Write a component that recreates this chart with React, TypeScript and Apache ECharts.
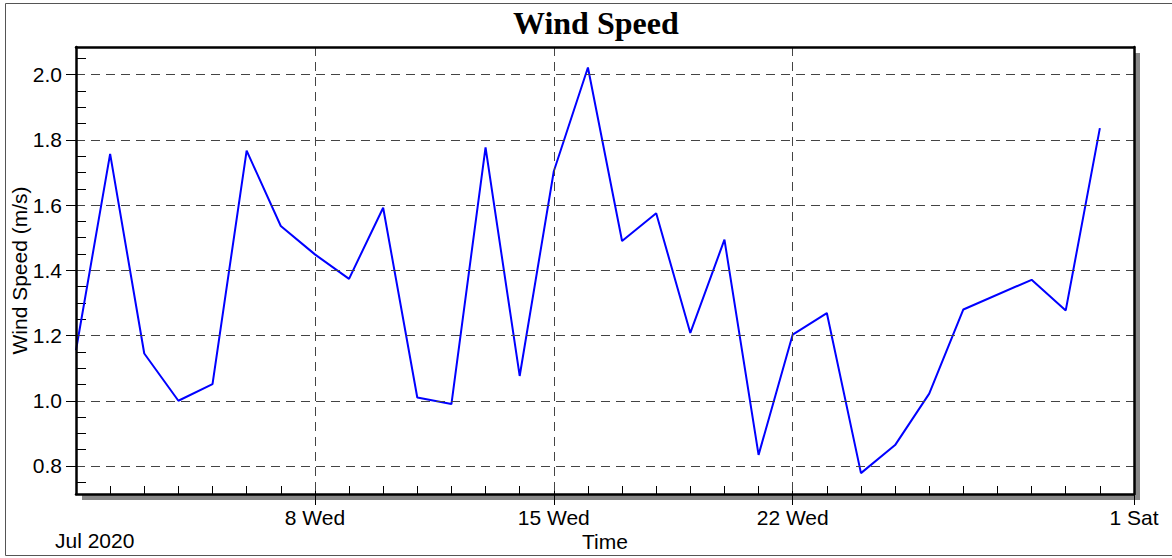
import React, { useEffect, useRef } from "react";
import * as echarts from "echarts";

// ---- data ----
const dates = [
  "2020-07-01", "2020-07-02", "2020-07-03", "2020-07-04", "2020-07-05",
  "2020-07-06", "2020-07-07", "2020-07-08", "2020-07-09", "2020-07-10",
  "2020-07-11", "2020-07-12", "2020-07-13", "2020-07-14", "2020-07-15",
  "2020-07-16", "2020-07-17", "2020-07-18", "2020-07-19", "2020-07-20",
  "2020-07-21", "2020-07-22", "2020-07-23", "2020-07-24", "2020-07-25",
  "2020-07-26", "2020-07-27", "2020-07-29", "2020-07-30", "2020-07-31",
];
const windSpeed = [
  1.155, 1.757, 1.145, 1.0, 1.051,
  1.767, 1.536, 1.449, 1.374, 1.592,
  1.01, 0.99, 1.777, 1.076, 1.704,
  2.022, 1.49, 1.575, 1.208, 1.494,
  0.834, 1.203, 1.269, 0.778, 0.864,
  1.022, 1.28, 1.371, 1.277, 1.836,
];
const xStart = "2020-07-01";
const xEnd = "2020-08-01";
const xMajorTicks = ["2020-07-08", "2020-07-15", "2020-07-22", "2020-08-01"];
const xMinorTicks = [
  "2020-07-02", "2020-07-03", "2020-07-04", "2020-07-05", "2020-07-06",
  "2020-07-07", "2020-07-08", "2020-07-09", "2020-07-10", "2020-07-11",
  "2020-07-12", "2020-07-13", "2020-07-14", "2020-07-15", "2020-07-16",
  "2020-07-17", "2020-07-18", "2020-07-19", "2020-07-20", "2020-07-21",
  "2020-07-22", "2020-07-23", "2020-07-24", "2020-07-25", "2020-07-26",
  "2020-07-27", "2020-07-28", "2020-07-29", "2020-07-30", "2020-07-31",
];
const yMin = 0.714;
const yMax = 2.085;
const yMajorTicks = [0.8, 1.0, 1.2, 1.4, 1.6, 1.8, 2.0];
const yMinorTicks = [
  0.75, 0.85, 0.9, 0.95, 1.05, 1.1, 1.15, 1.25, 1.3, 1.35, 1.45, 1.5,
  1.55, 1.65, 1.7, 1.75, 1.85, 1.9, 1.95, 2.05,
];
const WEEKDAYS = ["Sun", "Mon", "Tue", "Wed", "Thu", "Fri", "Sat"];

function toTime(s: string): number {
  const [y, m, d] = s.split("-").map(Number);
  return new Date(y, m - 1, d).getTime();
}

const SANS = "Liberation Sans";
const FRAME = { color: "#000", width: 2.5 };

export default function App() {
  const ref = useRef<HTMLDivElement>(null);

  useEffect(() => {
    if (!ref.current) return;
    const chart = echarts.init(ref.current, undefined, { renderer: "svg" });
    const minT = toTime(xStart);
    const maxT = toTime(xEnd);
    const hidden = { show: false };

    chart.setOption({
      animation: false,
      backgroundColor: "#fff",
      title: {
        text: "Wind Speed",
        left: 508,
        top: 2,
        textStyle: {
          fontFamily: "Liberation Serif",
          fontWeight: "bold",
          fontSize: 32,
          color: "#000",
        },
      },
      grid: {
        left: 76,
        right: 38,
        top: 47,
        bottom: 64,
        containLabel: false,
        outerBoundsMode: "none",
        show: true,
        backgroundColor: "#fff",
        borderWidth: 0,
        shadowColor: "#888",
        shadowBlur: 0,
        shadowOffsetX: 6,
        shadowOffsetY: 6,
      },
      graphic: [
        {
          type: "rect",
          shape: { x: 5.5, y: 3.5, width: 1170, height: 552 },
          style: { fill: "none", stroke: "#555", lineWidth: 1 },
          silent: true,
        },
        {
          type: "text",
          left: 55,
          top: 530,
          style: { text: "Jul 2020", font: `21px "${SANS}"`, fill: "#000" },
          silent: true,
        },
      ],
      xAxis: [
        {
          type: "value",
          min: minT,
          max: maxT,
          position: "bottom",
          z: 5,
          axisLine: { show: true, onZero: false, lineStyle: FRAME },
          axisTick: {
            show: true,
            inside: false,
            length: 11,
            customValues: xMajorTicks.map(toTime),
            lineStyle: { color: "#000", width: 1 },
          },
          axisLabel: {
            show: true,
            customValues: xMajorTicks.map(toTime),
            margin: 13,
            fontFamily: SANS,
            fontSize: 21,
            color: "#000",
            formatter: (v: number) => {
              const d = new Date(v);
              return `${d.getDate()} ${WEEKDAYS[d.getDay()]}`;
            },
          },
          splitLine: {
            show: true,
            lineStyle: { type: [9, 6], color: "#444", width: 1 },
          },
          name: "Time",
          nameLocation: "middle",
          nameGap: 37,
          nameMoveOverlap: false,
          nameTextStyle: { fontFamily: SANS, fontSize: 21, color: "#000" },
        },
        {
          type: "value",
          min: minT,
          max: maxT,
          position: "bottom",
          axisLine: hidden,
          axisTick: {
            show: true,
            inside: true,
            length: 8,
            customValues: xMinorTicks.map(toTime),
            lineStyle: { color: "#000", width: 1 },
          },
          axisLabel: hidden,
          splitLine: hidden,
        },
        {
          type: "value",
          min: 0,
          max: 1,
          position: "top",
          z: 10,
          axisLine: { show: true, onZero: false, lineStyle: FRAME },
          axisTick: hidden,
          axisLabel: hidden,
          splitLine: hidden,
        },
      ],
      yAxis: [
        {
          type: "value",
          min: yMin,
          max: yMax,
          position: "left",
          z: 5,
          axisLine: { show: true, onZero: false, lineStyle: FRAME },
          axisTick: {
            show: true,
            inside: false,
            length: 10,
            customValues: yMajorTicks,
            lineStyle: { color: "#000", width: 1 },
          },
          axisLabel: {
            show: true,
            customValues: yMajorTicks,
            margin: 14,
            fontFamily: SANS,
            fontSize: 21,
            color: "#000",
            formatter: (v: number) => v.toFixed(1),
          },
          splitLine: {
            show: true,
            lineStyle: { type: [9, 6], color: "#444", width: 1 },
          },
          name: "Wind Speed (m/s)",
          nameLocation: "middle",
          nameGap: 46,
          nameMoveOverlap: false,
          nameTextStyle: { fontFamily: SANS, fontSize: 21, color: "#000" },
        },
        {
          type: "value",
          min: yMin,
          max: yMax,
          position: "left",
          axisLine: hidden,
          axisTick: {
            show: true,
            inside: true,
            length: 10,
            customValues: yMinorTicks,
            lineStyle: { color: "#000", width: 1 },
          },
          axisLabel: hidden,
          splitLine: hidden,
        },
        {
          type: "value",
          min: 0,
          max: 1,
          position: "right",
          z: 10,
          axisLine: { show: true, onZero: false, lineStyle: FRAME },
          axisTick: hidden,
          axisLabel: hidden,
          splitLine: hidden,
        },
      ],
      series: [
        {
          type: "line",
          name: "Wind Speed",
          xAxisIndex: 0,
          yAxisIndex: 0,
          data: dates.map((d, i) => [toTime(d), windSpeed[i]]),
          showSymbol: false,
          symbol: "none",
          lineStyle: { color: "#0000ff", width: 2 },
          z: 3,
        },
      ],
    });

    return () => chart.dispose();
  }, []);

  return (
    <div
      ref={ref}
      style={{ position: "absolute", left: 0, top: 0, width: 1172, height: 558 }}
    />
  );
}
